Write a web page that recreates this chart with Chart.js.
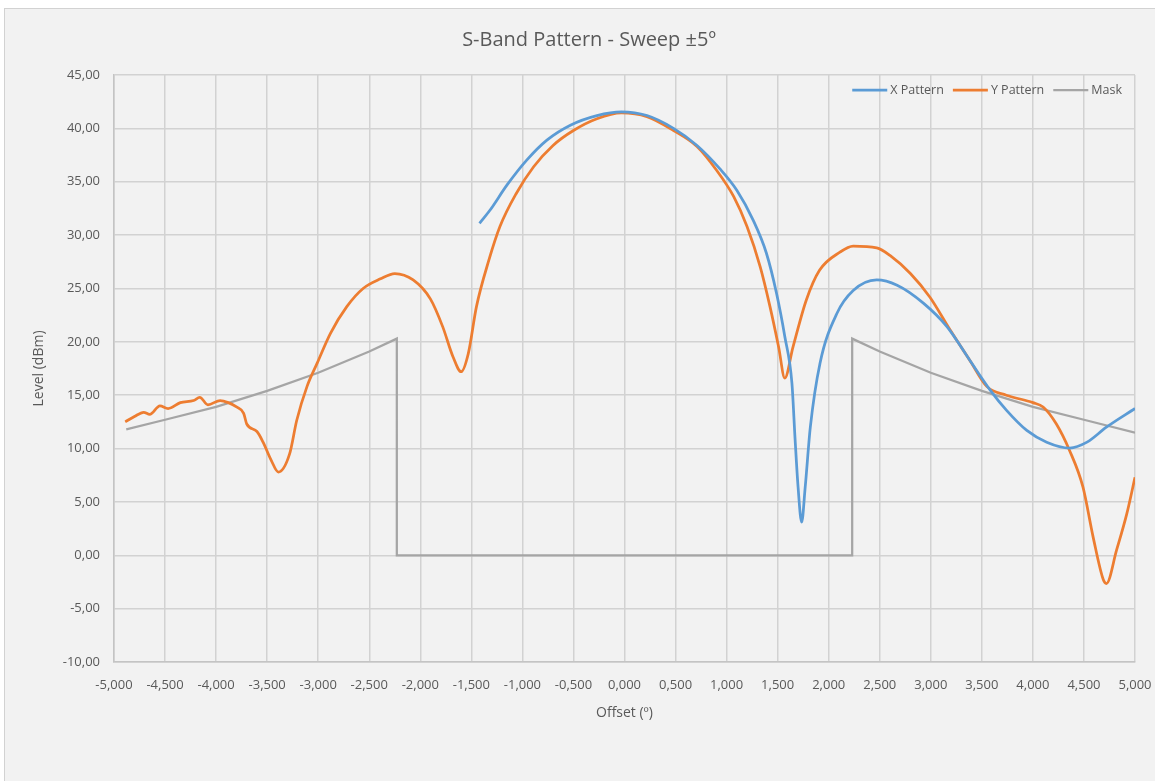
<!DOCTYPE html>
<html>
<head>
<meta charset="utf-8">
<script src="https://cdn.jsdelivr.net/npm/chart.js@4.4.1/dist/chart.umd.min.js"></script>
<style>
  html, body { margin: 0; padding: 0; background: #ffffff; width: 1155px; height: 781px; overflow: hidden; }
  #frame { position: absolute; left: 4px; top: 8px; width: 1151px; height: 773px; background: #f2f2f2; border-left: 1px solid #d2d2d2; border-top: 1px solid #d2d2d2; box-sizing: border-box; }
  #wrap { position: absolute; left: 0; top: 0; width: 1155px; height: 781px; }
</style>
</head>
<body>
<div id="frame"></div>
<div id="wrap"><canvas id="c" width="1155" height="781"></canvas></div>
<script>
// ---- Data ----
const xPatternOffsets = [-1.42, -1.32, -1.15, -0.96, -0.76, -0.53, -0.27, -0.03, 0.22, 0.48, 0.71, 0.935, 1.10, 1.26, 1.39, 1.49, 1.57, 1.64, 1.67, 1.70, 1.735, 1.77, 1.82, 1.915, 2.08, 2.24, 2.47, 2.67, 2.93, 3.16, 3.38, 3.58, 3.74, 3.94, 4.135, 4.36, 4.53, 4.72, 5.00];
const xPatternLevels  = [31.1, 32.3, 34.7, 37.0, 38.9, 40.3, 41.2, 41.55, 41.2, 40.0, 38.4, 36.2, 34.2, 31.4, 28.3, 24.5, 20.5, 16.1, 11.0, 6.4, 3.1, 6.4, 12.0, 18.0, 22.65, 24.8, 25.8, 25.3, 23.6, 21.4, 18.3, 15.5, 13.6, 11.7, 10.6, 10.05, 10.6, 12.0, 13.75];

const yPatternOffsets = [-4.89, -4.80, -4.71, -4.65, -4.55, -4.47, -4.35, -4.22, -4.16, -4.08, -3.96, -3.88, -3.80, -3.73, -3.70, -3.60, -3.54, -3.46, -3.39, -3.28, -3.21, -3.11, -3.01, -2.88, -2.72, -2.56, -2.39, -2.25, -2.07, -1.90, -1.78, -1.68, -1.60, -1.53, -1.45, -1.33, -1.22, -1.06, -0.89, -0.70, -0.50, -0.27, -0.03, 0.22, 0.48, 0.71, 0.90, 1.07, 1.20, 1.33, 1.425, 1.51, 1.57, 1.65, 1.78, 1.91, 2.11, 2.24, 2.47, 2.60, 2.80, 2.99, 3.19, 3.38, 3.55, 3.74, 4.00, 4.10, 4.23, 4.36, 4.49, 4.59, 4.69, 4.72, 4.82, 4.92, 5.00];
const yPatternLevels  = [12.5, 13.0, 13.4, 13.2, 14.0, 13.75, 14.3, 14.5, 14.8, 14.1, 14.5, 14.3, 13.9, 13.3, 12.3, 11.6, 10.6, 8.9, 7.8, 9.5, 12.65, 15.8, 18.0, 20.8, 23.3, 25.0, 25.9, 26.4, 25.8, 24.0, 21.4, 18.6, 17.2, 18.9, 23.3, 27.6, 30.8, 33.9, 36.4, 38.4, 39.8, 40.9, 41.45, 41.1, 39.8, 38.3, 36.1, 33.6, 30.8, 27.0, 23.3, 19.5, 16.6, 19.5, 23.9, 26.7, 28.4, 28.96, 28.8, 28.1, 26.4, 24.2, 21.1, 18.3, 15.8, 15.0, 14.3, 13.9, 12.3, 9.8, 6.4, 1.7, -2.3, -2.65, 0.5, 3.9, 7.3];

const maskOffsets = [-4.88, -4.5, -4.0, -3.5, -3.0, -2.5, -2.23, -2.23, 2.23, 2.23, 2.5, 3.0, 3.5, 4.0, 4.5, 5.0];
const maskLevels  = [11.8, 12.7, 13.9, 15.4, 17.1, 19.1, 20.3, 0.0, 0.0, 20.3, 19.1, 17.1, 15.4, 13.9, 12.7, 11.5];

const seriesNames = ['X Pattern', 'Y Pattern', 'Mask'];
const chartTitle = 'S-Band Pattern - Sweep \u00b15\u00ba';
const xAxisTitle = 'Offset (\u00ba)';
const yAxisTitle = 'Level (dBm)';
const xTickMin = -5, xTickMax = 5, xTickStep = 0.5;
const yTickMin = -10, yTickMax = 45, yTickStep = 5;

const pts = (xs, ys) => xs.map((x, i) => ({ x: x, y: ys[i] }));
const txt = '#595959';
const fontFamily = '"Open Sans", "Noto Sans", sans-serif';

// Title and in-plot legend (Excel style: legend inside the plot, top right)
const overlayPlugin = {
  id: 'overlay',
  afterDraw(chart) {
    const ctx = chart.ctx;
    const area = chart.chartArea;
    ctx.save();
    ctx.fillStyle = txt;
    ctx.font = '20px ' + fontFamily;
    ctx.textAlign = 'center';
    ctx.textBaseline = 'middle';
    ctx.fillText(chartTitle, 589, 40);
    ctx.font = '12.5px ' + fontFamily;
    ctx.textAlign = 'left';
    const lineLen = 35, gap = 3, itemGap = 9;
    const items = chart.data.datasets.map(d => ({ label: d.label, color: d.borderColor, w: d.borderWidth }));
    let total = 0;
    items.forEach((it, i) => { it.tw = ctx.measureText(it.label).width; total += lineLen + gap + it.tw + (i ? itemGap : 0); });
    let x = area.right - 13 - total;
    const y = area.top + 15;
    items.forEach((it, i) => {
      if (i) x += itemGap;
      ctx.strokeStyle = it.color;
      ctx.lineWidth = it.w;
      ctx.beginPath();
      ctx.moveTo(x, y);
      ctx.lineTo(x + lineLen, y);
      ctx.stroke();
      x += lineLen + gap;
      ctx.fillStyle = txt;
      ctx.fillText(it.label, x, y);
      x += it.tw;
    });
    ctx.restore();
  }
};

new Chart(document.getElementById('c'), {
  type: 'scatter',
  data: {
    datasets: [
      { label: seriesNames[0], data: pts(xPatternOffsets, xPatternLevels), showLine: true, borderColor: '#5b9bd5', backgroundColor: '#5b9bd5', borderWidth: 2.75, pointRadius: 0, cubicInterpolationMode: 'monotone' },
      { label: seriesNames[1], data: pts(yPatternOffsets, yPatternLevels), showLine: true, borderColor: '#ed7d31', backgroundColor: '#ed7d31', borderWidth: 2.75, pointRadius: 0, cubicInterpolationMode: 'monotone' },
      { label: seriesNames[2], data: pts(maskOffsets, maskLevels), showLine: true, borderColor: '#a5a5a5', backgroundColor: '#a5a5a5', borderWidth: 2.25, pointRadius: 0, tension: 0 }
    ]
  },
  options: {
    responsive: false,
    animation: false,
    devicePixelRatio: 1,
    layout: { padding: { left: 0, right: 20, top: 75, bottom: 0 } },
    plugins: {
      tooltip: { enabled: false },
      title: { display: false },
      legend: { display: false }
    },
    scales: {
      x: {
        type: 'linear', min: xTickMin, max: xTickMax,
        afterFit: s => { s.height = 119; s.paddingLeft = 0; s.paddingRight = 0; },
        ticks: { stepSize: xTickStep, color: txt, padding: 15, maxRotation: 0, autoSkip: false, font: { family: fontFamily, size: 13 }, callback: v => Number(v).toFixed(3).replace('.', ',') },
        grid: { color: '#d2d2d2', lineWidth: 1.5, drawTicks: false },
        border: { color: '#c4c4c4', width: 1.5 },
        title: { display: true, text: xAxisTitle, color: txt, font: { family: fontFamily, size: 14 }, padding: { top: 0, bottom: 60 } }
      },
      y: {
        min: yTickMin, max: yTickMax,
        afterFit: s => { s.width = 114; s.paddingTop = 0; s.paddingBottom = 0; },
        ticks: { stepSize: yTickStep, color: txt, padding: 14, font: { family: fontFamily, size: 13 }, callback: v => Number(v).toFixed(2).replace('.', ',') },
        grid: { color: '#d2d2d2', lineWidth: 1.5, drawTicks: false },
        border: { color: '#c4c4c4', width: 1.5 },
        title: { display: true, text: yAxisTitle, color: txt, font: { family: fontFamily, size: 14 }, padding: { top: 31, bottom: 0 } }
      }
    }
  },
  plugins: [overlayPlugin]
});
</script>
</body>
</html>
